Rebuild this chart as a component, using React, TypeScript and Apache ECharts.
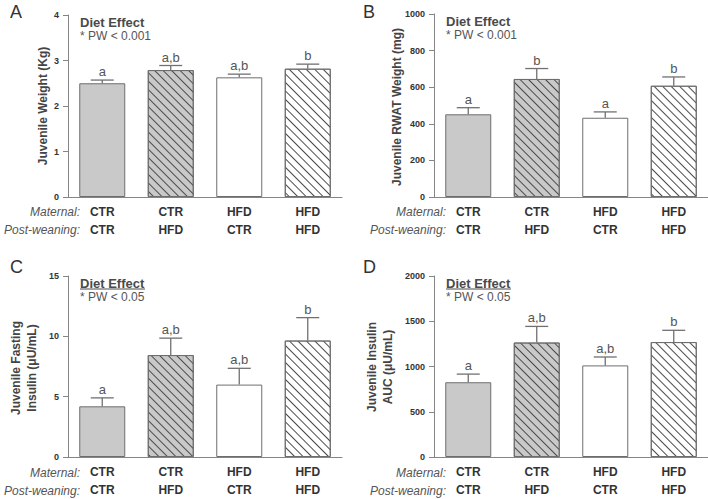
import React, { useEffect, useRef } from "react";
import * as echarts from "echarts";

const maternal = ["CTR", "CTR", "HFD", "HFD"];
const postWeaning = ["CTR", "HFD", "CTR", "HFD"];

const weightMean = [2.5, 2.79, 2.63, 2.82];
const weightSem = [0.07, 0.1, 0.07, 0.1];
const weightLetters = ["a", "a,b", "a,b", "b"];

const rwatMean = [452, 645, 433, 608];
const rwatSem = [36, 57, 32, 48];
const rwatLetters = ["a", "b", "a", "b"];

const insulinMean = [4.2, 8.45, 6.0, 9.65];
const insulinSem = [0.7, 1.4, 1.35, 1.9];
const insulinLetters = ["a", "a,b", "a,b", "b"];

const aucMean = [826, 1265, 1012, 1270];
const aucSem = [90, 178, 93, 130];
const aucLetters = ["a", "a,b", "a,b", "b"];

const FONT = "'Liberation Sans', Arial, sans-serif";
const AXIS = "#858585";
const TXT = "#444";

const panels = [
  { letter: "A", mean: weightMean, sem: weightSem, letters: weightLetters, max: 4, interval: 1, pw: "* PW < 0.001", underline: false,
    grid: { left: 68, top: 15, width: 274, height: 182 }, title: "Juvenile Weight (Kg)", titleX: 43, titleY: 106 },
  { letter: "B", mean: rwatMean, sem: rwatSem, letters: rwatLetters, max: 1000, interval: 200, pw: "* PW < 0.001", underline: false,
    grid: { left: 434, top: 14, width: 274, height: 183 }, title: "Juvenile RWAT Weight (mg)", titleX: 397, titleY: 107 },
  { letter: "C", mean: insulinMean, sem: insulinSem, letters: insulinLetters, max: 15, interval: 5, pw: "* PW < 0.05", underline: true,
    grid: { left: 68, top: 276, width: 274, height: 182 }, title: "Juvenile Fasting\nInsulin (\u03bcU/mL)", titleX: 24, titleY: 368 },
  { letter: "D", mean: aucMean, sem: aucSem, letters: aucLetters, max: 2000, interval: 500, pw: "* PW < 0.05", underline: true,
    grid: { left: 434, top: 276, width: 274, height: 182 }, title: "Juvenile Insulin\nAUC (\u03bcU/mL)", titleX: 380, titleY: 367 },
];

const hatch = {
  symbol: "rect",
  symbolSize: 1,
  color: "#4a4a4a",
  dashArrayX: [1, 0],
  dashArrayY: [1, 4.5],
  rotation: Math.PI / 4,
};

const barStyles = [
  { color: "#c9c9c9", decal: null },
  { color: "#c9c9c9", decal: hatch },
  { color: "#ffffff", decal: null },
  { color: "#ffffff", decal: hatch },
];

export default function App() {
  const ref = useRef<HTMLDivElement>(null);
  useEffect(() => {
    if (!ref.current) return;
    const chart = echarts.init(ref.current, null, { renderer: "svg" });
    const grids: any[] = [];
    const xAxes: any[] = [];
    const yAxes: any[] = [];
    const series: any[] = [];
    const graphic: any[] = [];

    panels.forEach((p, k) => {
      grids.push({ ...p.grid, containLabel: false });
      xAxes.push({
        type: "category",
        gridIndex: k,
        data: maternal,
        axisLine: { lineStyle: { color: AXIS, width: 1 } },
        axisTick: { alignWithLabel: true, length: 4, lineStyle: { color: AXIS } },
        axisLabel: {
          margin: 6,
          interval: 0,
          formatter: (_v: string, idx: number) => `${maternal[idx]}\n${postWeaning[idx]}`,
          fontFamily: FONT,
          fontSize: 12,
          fontWeight: "bold",
          color: "#333",
          lineHeight: 18,
        },
      });
      yAxes.push({
        type: "value",
        gridIndex: k,
        min: 0,
        max: p.max,
        interval: p.interval,
        splitLine: { show: false },
        axisLine: { show: true, lineStyle: { color: AXIS, width: 1 } },
        axisTick: { show: true, length: 5, lineStyle: { color: AXIS } },
        axisLabel: {
          margin: 9,
          fontFamily: FONT,
          fontSize: 9,
          fontWeight: "bold",
          color: "#333",
          formatter: (v: number) => String(v),
        },
      });
      series.push({
        type: "bar",
        xAxisIndex: k,
        yAxisIndex: k,
        barWidth: 46,
        data: p.mean.map((v, i) => ({
          value: v,
          itemStyle: {
            color: barStyles[i].color,
            borderColor: "#6e6e6e",
            borderWidth: 1,
            decal: barStyles[i].decal || undefined,
          },
        })),
      });
      const letters = p.letters;
      series.push({
        type: "custom",
        xAxisIndex: k,
        yAxisIndex: k,
        z: 5,
        data: p.mean.map((v, i) => [i, v, p.sem[i]]),
        encode: { x: 0, y: 1 },
        renderItem: (params: any, api: any) => {
          const i = api.value(0);
          const m = api.value(1);
          const s = api.value(2);
          const b = api.coord([i, m]);
          const t = api.coord([i, m + s]);
          const half = 11.5;
          const ls = { stroke: "#707070", lineWidth: 1.3 };
          return {
            type: "group",
            children: [
              { type: "line", shape: { x1: b[0], y1: b[1], x2: t[0], y2: t[1] }, style: ls },
              { type: "line", shape: { x1: t[0] - half, y1: t[1], x2: t[0] + half, y2: t[1] }, style: ls },
              {
                type: "text",
                x: t[0],
                y: t[1] - 2,
                style: {
                  text: letters[params.dataIndex],
                  align: "center",
                  verticalAlign: "bottom",
                  fontSize: 13,
                  fontFamily: FONT,
                  fill: "#555",
                },
              },
            ],
          };
        },
      });

      const gl = p.grid.left;
      const gt = p.grid.top;
      const axisY = gt + p.grid.height;
      graphic.push({
        type: "text",
        x: k % 2 === 0 ? 10 : 363,
        y: k < 2 ? 12 : 267,
        style: { text: p.letter, fontSize: 18, fontFamily: FONT, fill: "#333", align: "left", verticalAlign: "middle" },
      });
      const dx = gl + 12;
      const dy = gt + 7;
      graphic.push({
        type: "text",
        x: dx,
        y: dy,
        style: { text: "Diet Effect", fontSize: 13, fontWeight: "bold", fontFamily: FONT, fill: "#4a4a4a", align: "left", verticalAlign: "middle" },
      });
      if (p.underline) {
        graphic.push({
          type: "line",
          shape: { x1: dx, y1: dy + 6, x2: dx + 65, y2: dy + 6 },
          style: { stroke: "#4a4a4a", lineWidth: 1 },
        });
      }
      graphic.push({
        type: "text",
        x: dx,
        y: dy + 14,
        style: { text: p.pw, fontSize: 12, fontFamily: FONT, fill: "#555", align: "left", verticalAlign: "middle" },
      });
      graphic.push({
        type: "text",
        x: p.titleX,
        y: p.titleY,
        rotation: Math.PI / 2,
        style: {
          text: p.title,
          fontSize: 12,
          fontWeight: "bold",
          fontFamily: FONT,
          fill: TXT,
          align: "center",
          verticalAlign: "middle",
          lineHeight: 16,
        },
      });
      graphic.push({
        type: "text",
        x: gl + 12,
        y: axisY + 15,
        style: { text: "Maternal:", fontSize: 12, fontStyle: "italic", fontFamily: FONT, fill: "#555", align: "right", verticalAlign: "middle" },
      });
      graphic.push({
        type: "text",
        x: gl + 12,
        y: axisY + 33,
        style: { text: "Post-weaning:", fontSize: 12, fontStyle: "italic", fontFamily: FONT, fill: "#555", align: "right", verticalAlign: "middle" },
      });
    });

    chart.setOption({
      animation: false,
      backgroundColor: "#ffffff",
      grid: grids,
      xAxis: xAxes,
      yAxis: yAxes,
      series,
      graphic,
    });
    return () => chart.dispose();
  }, []);
  return <div ref={ref} style={{ width: 708, height: 499, position: "absolute", left: 0, top: 0 }} />;
}
